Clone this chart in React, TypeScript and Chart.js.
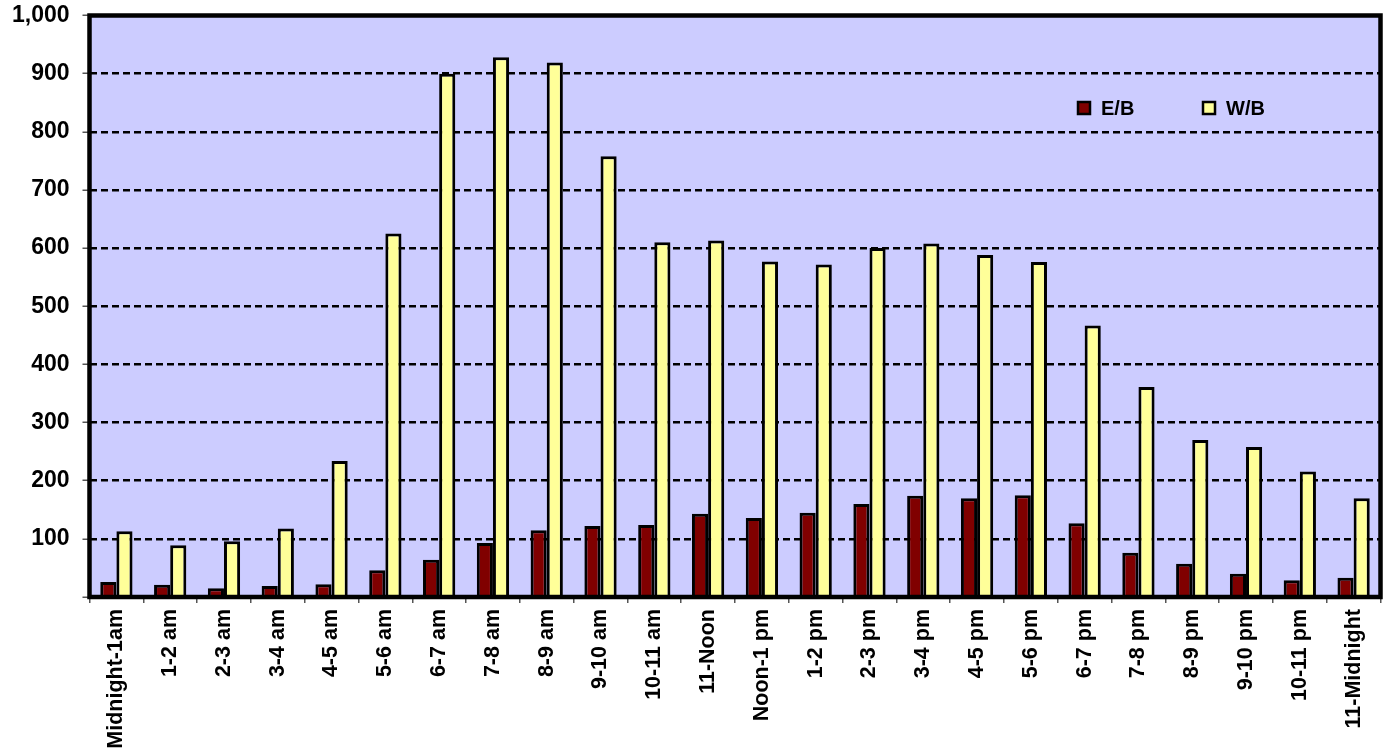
import React, { useEffect, useRef } from 'react';
import { Chart, registerables } from 'chart.js';

Chart.register(...registerables);

const categories = [
  'Midnight-1am', '1-2 am', '2-3 am', '3-4 am', '4-5 am', '5-6 am', '6-7 am', '7-8 am',
  '8-9 am', '9-10 am', '10-11 am', '11-Noon', 'Noon-1 pm', '1-2 pm', '2-3 pm', '3-4 pm',
  '4-5 pm', '5-6 pm', '6-7 pm', '7-8 pm', '8-9 pm', '9-10 pm', '10-11 pm', '11-Midnight',
];

const ebValues = [26, 21, 15, 19, 22, 46, 64, 93, 115, 122, 124, 143, 136, 145, 160, 174, 170, 175, 127, 76, 57, 40, 29, 33];
const wbValues = [113, 89, 96, 118, 234, 625, 900, 928, 919, 758, 610, 613, 577, 572, 600, 608, 588, 576, 467, 361, 270, 258, 216, 170];

const seriesLabels = ['E/B', 'W/B'];
const yTickValues = [0, 100, 200, 300, 400, 500, 600, 700, 800, 900, 1000];

const EB_COLOR = '#800000';
const WB_COLOR = '#FFFF99';
const PLOT_BG = '#CCCCFF';
const FONT = '"Liberation Sans", Arial, sans-serif';

const plotBackground = {
  id: 'plotBackground',
  beforeDraw(chart: any) {
    const { ctx, chartArea } = chart;
    ctx.save();
    ctx.fillStyle = PLOT_BG;
    ctx.fillRect(chartArea.left, chartArea.top, chartArea.right - chartArea.left, chartArea.bottom - chartArea.top);
    ctx.restore();
  },
  afterDraw(chart: any) {
    const { ctx, chartArea } = chart;
    ctx.save();
    ctx.strokeStyle = '#000';
    ctx.lineWidth = 4.5;
    ctx.strokeRect(chartArea.left, chartArea.top, chartArea.right - chartArea.left, chartArea.bottom - chartArea.top);
    ctx.restore();
  },
};

const insideLegend = {
  id: 'insideLegend',
  afterDraw(chart: any) {
    const { ctx } = chart;
    const xs = [1078, 1203];
    ctx.save();
    chart.data.datasets.forEach((ds: any, i: number) => {
      const x = xs[i];
      const y = 102;
      ctx.fillStyle = ds.backgroundColor;
      ctx.fillRect(x, y, 12, 12);
      ctx.lineWidth = 2.5;
      ctx.strokeStyle = '#000';
      ctx.strokeRect(x, y, 12, 12);
      ctx.fillStyle = '#000';
      ctx.font = `bold 20px ${FONT}`;
      ctx.textBaseline = 'middle';
      ctx.textAlign = 'left';
      ctx.fillText(ds.label, x + 23, y + 7);
    });
    ctx.restore();
  },
};

export default function App() {
  const canvasRef = useRef<HTMLCanvasElement | null>(null);

  useEffect(() => {
    if (!canvasRef.current) return;
    const chart = new Chart(canvasRef.current, {
      type: 'bar',
      data: {
        labels: categories,
        datasets: [
          {
            label: seriesLabels[0],
            data: ebValues,
            backgroundColor: EB_COLOR,
            borderColor: '#000',
            borderWidth: 3,
            categoryPercentage: 0.6,
            barPercentage: 1,
          },
          {
            label: seriesLabels[1],
            data: wbValues,
            backgroundColor: WB_COLOR,
            borderColor: '#000',
            borderWidth: 3,
            categoryPercentage: 0.6,
            barPercentage: 1,
          },
        ],
      },
      options: {
        animation: false,
        responsive: false,
        maintainAspectRatio: false,
        layout: { padding: { top: 15.5, right: 7.5, left: 0, bottom: 0 } },
        plugins: {
          legend: { display: false },
          title: { display: false },
          tooltip: { enabled: false },
        },
        scales: {
          x: {
            grid: {
              display: true,
              drawOnChartArea: false,
              drawTicks: true,
              tickLength: 6,
              color: '#555',
              lineWidth: 1.5,
              offset: true,
            },
            border: { display: false },
            ticks: {
              color: '#000',
              font: { family: FONT, size: 21.5, weight: 'bold' },
              maxRotation: 90,
              minRotation: 90,
              autoSkip: false,
              padding: 6,
            },
            afterFit(scale: any) {
              scale.height = 157;
              scale.paddingLeft = 0;
              scale.paddingRight = 0;
            },
          },
          y: {
            min: 0,
            max: 1000,
            afterBuildTicks(scale: any) {
              scale.ticks = yTickValues.map((v) => ({ value: v }));
            },
            grid: {
              color: '#000',
              lineWidth: 2.5,
              tickLength: 7,
              tickColor: '#555',
              tickWidth: 1.5,
            },
            border: { display: false, dash: [7, 4] },
            ticks: {
              color: '#000',
              font: { family: FONT, size: 23, weight: 'bold' },
              padding: 13,
              callback: (v: any) => (Number(v) === 0 ? '' : Number(v).toLocaleString('en-US')),
            },
            afterFit(scale: any) {
              scale.width = 89.5;
              scale.paddingTop = 0;
              scale.paddingBottom = 0;
            },
          },
        },
      },
      plugins: [plotBackground, insideLegend],
    } as any);
    return () => chart.destroy();
  }, []);

  return (
    <div style={{ position: 'fixed', left: 0, top: 0, width: 1388, height: 754, background: '#fff' }}>
      <canvas ref={canvasRef} width={1388} height={754} style={{ display: 'block' }} />
    </div>
  );
}
